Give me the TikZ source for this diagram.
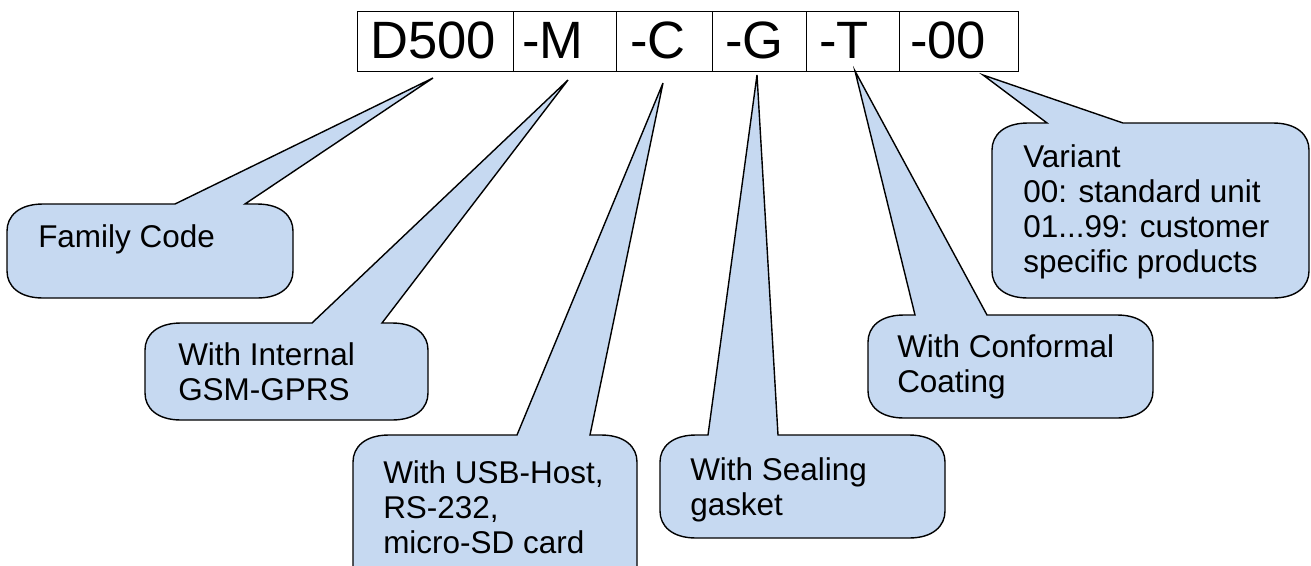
\documentclass[tikz,border=0pt]{standalone}
\usepackage{fontspec}
\setmainfont{Liberation Sans}
\definecolor{bubfill}{RGB}{198,217,241}
\newcommand\bubble[7]{%
 \draw[bub] (#1+36,#2) -- (#5,#2) -- (#7) -- (#6,#2) -- (#3-36,#2)
  .. controls (#3-12,#2) and (#3,#2+12) .. (#3,#2+27) -- (#3,#4-27)
  .. controls (#3,#4-12) and (#3-12,#4) .. (#3-36,#4) -- (#1+36,#4)
  .. controls (#1+12,#4) and (#1,#4-12) .. (#1,#4-27) -- (#1,#2+27)
  .. controls (#1,#2+12) and (#1+12,#2) .. cycle;}
\tikzset{
  bub/.style={draw=black, fill=bubfill, line width=1.05pt, line join=miter},
  cell/.style={draw=black, line width=1.05pt, minimum height=45pt, inner sep=0pt, anchor=north west},
  celltxt/.style={anchor=base west, inner sep=0pt, font=\fontsize{39.4}{44}\selectfont},
  txt/.style={anchor=base west, inner sep=0pt, font=\fontsize{23.6}{26.25}\selectfont}
}
\begin{document}
\begin{tikzpicture}[x=0.75pt,y=-0.75pt]
\useasboundingbox (0,0) rectangle (1311,565);
\clip (0,0) rectangle (1311,565);
% code cells
\node[cell, minimum width=117pt] (cD) at (357,10.5) {};
\node[cell, minimum width=77.25pt] (cM) at (513,10.5) {};
\node[cell, minimum width=72pt] (cC) at (616,10.5) {};
\node[cell, minimum width=70.5pt] (cG) at (712,10.5) {};
\node[cell, minimum width=69.75pt] (cT) at (806,10.5) {};
\node[cell, minimum width=89.25pt] (cV) at (899,10.5) {};
\node[celltxt] (tD) at (370,58) {D500};
\node[celltxt] (tM) at (522,58) {-M};
\node[celltxt] (tC) at (630,58) {-C};
\node[celltxt] (tG) at (725,58) {-G};
\node[celltxt] (tT) at (819,58) {-T};
\node[celltxt] (tV) at (910,58) {-00};
% pointer tips
\coordinate (pF) at (433,78);
\coordinate (pM) at (568,80);
\coordinate (pC) at (663,83);
\coordinate (pG) at (757,75);
\coordinate (pT) at (855,71);
\coordinate (pV) at (983,75);
% callouts
\bubble{7}{204}{293}{298}{175}{245}{pF}
\bubble{145}{323}{428}{420}{312}{382}{pM}
\bubble{353}{435}{637}{610}{517}{590}{pC}
\bubble{660}{435}{945}{538}{708}{778}{pG}
\bubble{868}{315}{1153}{418}{915}{987}{pT}
\bubble{992}{123}{1309}{298}{1047}{1123}{pV}
% texts
\node[txt] (lF) at (38,247) {Family Code};
\node[txt] (lM) at (178,365) {\begin{tabular}[t]{@{}l@{}}With Internal\\GSM-GPRS\end{tabular}};
\node[txt] (lC) at (383,483) {\begin{tabular}[t]{@{}l@{}}With USB-Host,\\RS-232,\\micro-SD card\end{tabular}};
\node[txt] (lG) at (690,480) {\begin{tabular}[t]{@{}l@{}}With Sealing\\gasket\end{tabular}};
\node[txt] (lT) at (897,357) {\begin{tabular}[t]{@{}l@{}}With Conformal\\Coating\end{tabular}};
\node[txt] (lV) at (1023,167) {\begin{tabular}[t]{@{}l@{}}Variant\\00: standard unit\\01...99: customer\\specific products\end{tabular}};
\end{tikzpicture}
\end{document}
